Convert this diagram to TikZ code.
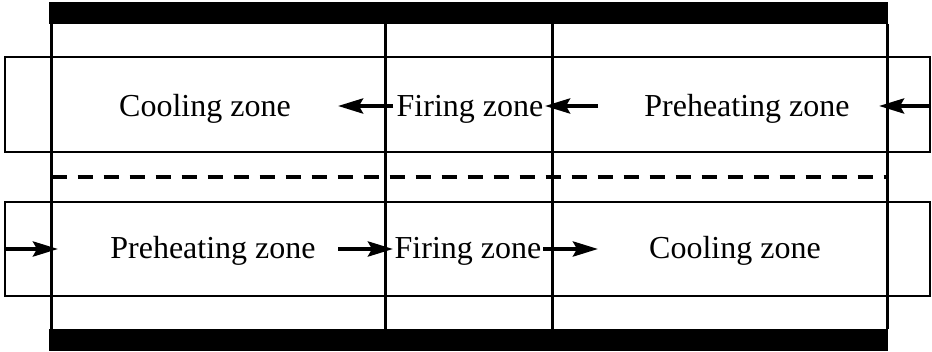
\documentclass[tikz,border=0pt]{standalone}
\usepackage{fontspec}
\setmainfont{Liberation Serif}
\usetikzlibrary{arrows.meta}

\tikzset{
  zonelabel/.style={anchor=base, inner sep=0pt, font=\fontsize{32}{38}\selectfont},
  wall/.style={line width=3pt},
  channel/.style={line width=2pt},
  flow/.style={line width=4pt, -{Stealth[length=25pt,width=15pt,inset=4pt]}},
  divider/.style={line width=3.5pt, dash pattern=on 15pt off 11pt},
  slab/.style={fill=black}
}

\begin{document}
\begin{tikzpicture}[x=1pt, y=-1pt]
  \useasboundingbox (0,0) rectangle (932,352);

  % upper and lower solid slabs
  \fill[slab] (49,2) rectangle (888,24);
  \fill[slab] (49,329) rectangle (888,351);

  % the two gas channels
  \draw[channel] (5,57) rectangle (930,152);
  \draw[channel] (5,202) rectangle (930,296);

  % kiln walls and zone boundaries
  \draw[wall] (51.5,24) -- (51.5,329);
  \draw[wall] (385.7,24) -- (385.7,329);
  \draw[wall] (552,24) -- (552,329);
  \draw[wall] (887,24) -- (887,329);

  % separation between the channels
  \draw[divider] (51.5,177) -- (887,177);

  % zone names, upper channel
  \node[zonelabel] (coolU) at (205,117) {Cooling zone};
  \node[zonelabel] (fireU) at (470,117) {Firing zone};
  \node[zonelabel] (preU)  at (747,117) {Preheating zone};

  % zone names, lower channel
  \node[zonelabel] (preL)  at (213,259) {Preheating zone};
  \node[zonelabel] (fireL) at (468,259) {Firing zone};
  \node[zonelabel] (coolL) at (735,259) {Cooling zone};

  % flow end points, upper channel (right to left)
  \coordinate (u1s) at (393,106);
  \coordinate (u1e) at (338,106);
  \coordinate (u2s) at (598,106);
  \coordinate (u2e) at (545,106);
  \coordinate (u3s) at (930,106);
  \coordinate (u3e) at (879,106);

  % flow end points, lower channel (left to right)
  \coordinate (l1s) at (5,249);
  \coordinate (l1e) at (58,249);
  \coordinate (l2s) at (338,249);
  \coordinate (l2e) at (393,249);
  \coordinate (l3s) at (543,249);
  \coordinate (l3e) at (598,249);

  \draw[flow] (u1s) -- (u1e);
  \draw[flow] (u2s) -- (u2e);
  \draw[flow] (u3s) -- (u3e);
  \draw[flow] (l1s) -- (l1e);
  \draw[flow] (l2s) -- (l2e);
  \draw[flow] (l3s) -- (l3e);
\end{tikzpicture}
\end{document}
